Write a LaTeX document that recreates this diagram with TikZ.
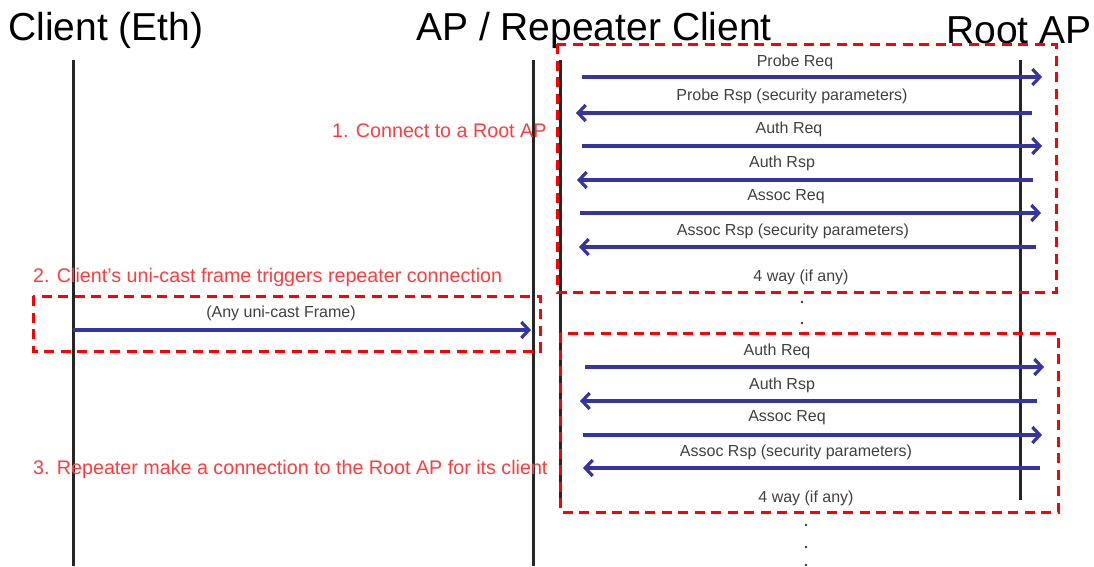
\documentclass[tikz,border=0pt]{standalone}
\usepackage{fontspec}
\setmainfont{Liberation Sans}
\usetikzlibrary{arrows.meta}
\definecolor{msgblue}{RGB}{52,52,165}
\definecolor{notered}{RGB}{255,60,60}
\tikzset{
  lifeline/.style={line width=3pt, black!85},
  msg/.style={line width=3.2pt, msgblue, -{Straight Barb[length=7.5pt,width=16pt]}},
  phase/.style={draw=red, line width=3pt, dash pattern=on 10pt off 6.5pt},
  msglabel/.style={font=\fontsize{16}{18}\selectfont, text=black!75, inner sep=0},
  title/.style={font=\fontsize{39}{42}\selectfont, inner sep=0},
  note/.style={font=\fontsize{19.7}{23}\selectfont, text=notered, inner sep=0, anchor=west},
  dotmark/.style={circle, fill=black!80, inner sep=0, minimum size=2.8pt}
}
\begin{document}
\begin{tikzpicture}[x=1pt,y=-1pt]
\useasboundingbox (0,0) rectangle (1094,566);

% titles
\node[title] (tclient) at (106,30) {Client (Eth)};
\node[title] (tap) at (594,30) {AP / Repeater Client};
\node[title] (troot) at (1019,30) {Root AP};

% lifelines
\coordinate (c0) at (73,60);   \coordinate (c1) at (73,566);
\coordinate (a0) at (533,60);  \coordinate (a1) at (533,566);
\coordinate (i0) at (560,60);  \coordinate (i1) at (560,500);
\coordinate (r0) at (1020,60); \coordinate (r1) at (1020,500);
\draw[lifeline] (c0) -- (c1);
\draw[lifeline] (a0) -- (a1);
\draw[lifeline] (i0) -- (i1);
\draw[lifeline] (r0) -- (r1);

% phase boxes
\draw[phase] (557,44) rectangle (1056,292);
\draw[phase] (33,296) rectangle (540,351);
\draw[phase] (560,333) rectangle (1058,512);

% phase 1: connect to the root AP
\coordinate (m1s) at (582,77);  \coordinate (m1e) at (1042,77);
\coordinate (m2s) at (1032,113); \coordinate (m2e) at (576,113);
\coordinate (m3s) at (582,146); \coordinate (m3e) at (1042,146);
\coordinate (m4s) at (1033,180); \coordinate (m4e) at (577,180);
\coordinate (m5s) at (580,213); \coordinate (m5e) at (1041,213);
\coordinate (m6s) at (1036,247); \coordinate (m6e) at (579,247);
\draw[msg] (m1s) -- (m1e);
\draw[msg] (m2s) -- (m2e);
\draw[msg] (m3s) -- (m3e);
\draw[msg] (m4s) -- (m4e);
\draw[msg] (m5s) -- (m5e);
\draw[msg] (m6s) -- (m6e);
\node[msglabel] (l1) at (795,62) {Probe Req};
\node[msglabel] (l2) at (792,96) {Probe Rsp (security parameters)};
\node[msglabel] (l3) at (789,129) {Auth Req};
\node[msglabel] (l4) at (782,163) {Auth Rsp};
\node[msglabel] (l5) at (786,197) {Assoc Req};
\node[msglabel] (l6) at (793,231) {Assoc Rsp (security parameters)};
\node[msglabel] (l7) at (801,277) {4 way (if any)};
\node[dotmark] (d1) at (802,302) {};
\node[dotmark] (d2) at (802,323) {};

% phase 2: unicast frame from the client
\coordinate (u0) at (73,330); \coordinate (u1) at (531,330);
\draw[msg] (u0) -- (u1);
\node[msglabel] (lu) at (281,313) {(Any uni-cast Frame)};

% phase 3: repeater connection on behalf of the client
\coordinate (n1s) at (585,367); \coordinate (n1e) at (1044,367);
\coordinate (n2s) at (1037,401); \coordinate (n2e) at (580,401);
\coordinate (n3s) at (583,435); \coordinate (n3e) at (1042,435);
\coordinate (n4s) at (1040,468); \coordinate (n4e) at (583,468);
\draw[msg] (n1s) -- (n1e);
\draw[msg] (n2s) -- (n2e);
\draw[msg] (n3s) -- (n3e);
\draw[msg] (n4s) -- (n4e);
\node[msglabel] (k1) at (777,351) {Auth Req};
\node[msglabel] (k2) at (782,385) {Auth Rsp};
\node[msglabel] (k3) at (787,418) {Assoc Req};
\node[msglabel] (k4) at (796,452) {Assoc Rsp (security parameters)};
\node[msglabel] (k5) at (806,498) {4 way (if any)};
\node[dotmark] (d3) at (806,525) {};
\node[dotmark] (d4) at (806,547) {};
\node[dotmark] (d5) at (806,565) {};

% step notes
\node[note] (s1) at (332,131) {1. Connect to a Root AP};
\node[note] (s2) at (33,277) {2. Client’s uni-cast frame triggers repeater connection};
\node[note] (s3) at (33,469) {3. Repeater make a connection to the Root AP for its client};
\end{tikzpicture}
\end{document}
